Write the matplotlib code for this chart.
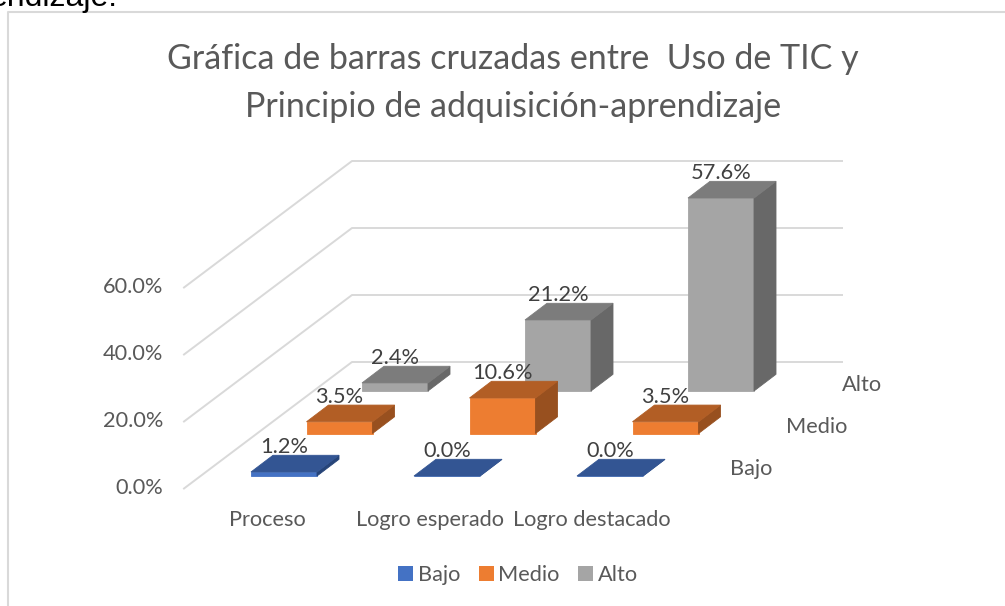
import matplotlib
matplotlib.use("Agg")
import matplotlib.pyplot as plt
from matplotlib.patches import Patch, Polygon

plt.rcParams['font.family'] = ['Lato', 'DejaVu Sans']

# Data
categories = ["Proceso", "Logro esperado", "Logro destacado"]
series_names = ["Bajo", "Medio", "Alto"]
bajo = [1.2, 0.0, 0.0]
medio = [3.5, 10.6, 3.5]
alto = [2.4, 21.2, 57.6]
axis_ticks = [0, 20, 40, 60]

title = "Gráfica de barras cruzadas entre  Uso de TIC y\nPrincipio de adquisición-aprendizaje"
series_values = [bajo, medio, alto]

# Colours: front, top, side
colors = [("#4472C4", "#335593", "#264478"),
          ("#ED7D31", "#B25E25", "#98501F"),
          ("#A5A5A5", "#7C7C7C", "#686868")]
text_color = "#595959"
label_color = "#404040"
grid_color = "#D9D9D9"

# Oblique projection, in pixels of the picture
x0, y0 = 251, 476      # front left corner of the first bar on the floor
bar_w = 66
cat_step = 163
ser_dx, ser_dy = 55.5, -42.5
depth_dx, depth_dy = 22, -16.7
px_per_pct = 3.35


def corner(i, j, value, side=0, depth=0):
    x = x0 + i * cat_step + j * ser_dx + side * bar_w + depth * depth_dx
    y = y0 + j * ser_dy + depth * depth_dy - value * px_per_pct
    return (x, y)


fig = plt.figure(figsize=(10.05, 6.06), dpi=100)
ax = fig.add_axes([0, 0, 1, 1])
ax.set_xlim(0, 1005)
ax.set_ylim(606, 0)
ax.axis("off")

# Chart frame and the text of the page above it
ax.plot([8, 8, 1005], [606, 12, 12], color=grid_color, lw=1.5)
ax.text(-10, 6, "endizaje.", fontsize=23, family="Liberation Sans", color="black", va="baseline")

# Walls
for t in axis_ticks:
    y_front = 488.5 - t * px_per_pct
    y_back = 362 - t * px_per_pct
    ax.plot([184, 352, 842], [y_front, y_back, y_back], color=grid_color, lw=1.4)
    ax.text(163, 488 - t * px_per_pct, f"{t:.1f}%", ha="right", va="center", fontsize=15.7, color=text_color)

# Bars, from the back row to the front row
for j in [2, 1, 0]:
    front, top, side = colors[j]
    for i, v in enumerate(series_values[j]):
        faces = [
            ([corner(i, j, 0), corner(i, j, 0, 1), corner(i, j, v, 1), corner(i, j, v)], front),
            ([corner(i, j, 0, 1), corner(i, j, 0, 1, 1), corner(i, j, v, 1, 1), corner(i, j, v, 1)], side),
            ([corner(i, j, v), corner(i, j, v, 1), corner(i, j, v, 1, 1), corner(i, j, v, 0, 1)], top),
        ]
        for pts, c in faces:
            ax.add_patch(Polygon(pts, closed=True, facecolor=c, edgecolor=c, lw=0.6, zorder=3 + (2 - j)))
        lx = corner(i, j, v, 0.5)[0]
        ly = corner(i, j, v, 0, 1)[1] - 8.5
        ax.text(lx, ly, f"{v:.1f}%", ha="center", va="center", fontsize=15.7, color=label_color, zorder=10)

# Axis labels
cat_x = [267, 430, 592]
for x, name in zip(cat_x, categories):
    ax.text(x, 520, name, ha="center", va="center", fontsize=15.7, color=text_color)
ser_label_x = [751, 817, 862]
ser_label_y = [469, 427, 385]
for x, y, name in zip(ser_label_x, ser_label_y, series_names):
    ax.text(x, y, name, ha="center", va="center", fontsize=15.7, color=text_color)

ax.text(513, 83, title, ha="center", va="center", fontsize=24.5, color=text_color, linespacing=1.6)

handles = [Patch(facecolor=colors[k][0], label=series_names[k]) for k in range(3)]
ax.legend(handles=handles, ncol=3, loc="center", bbox_to_anchor=(518 / 1005, 1 - 575 / 606), frameon=False,
          fontsize=15.7, labelcolor=text_color, handlelength=0.7, handleheight=0.7,
          handletextpad=0.2, columnspacing=0.85)

fig.savefig("out.png", dpi=100)
